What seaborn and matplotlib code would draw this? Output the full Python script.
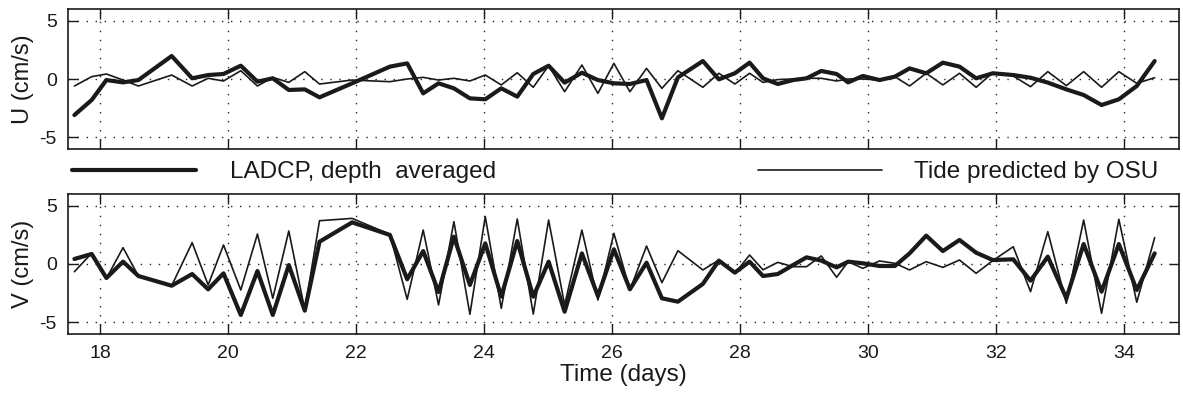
import matplotlib
matplotlib.use('Agg')
import matplotlib.pyplot as plt
from matplotlib.lines import Line2D
import seaborn as sns

# station times (days) and velocities (cm/s)
times = [17.60, 17.87, 18.10, 18.36, 18.60, 19.12, 19.44, 19.69, 19.93, 20.20,
         20.46, 20.70, 20.95, 21.20, 21.43, 21.94, 22.53, 22.80, 23.05, 23.29,
         23.53, 23.78, 24.02, 24.27, 24.52, 24.77, 25.01, 25.26, 25.53, 25.78,
         26.03, 26.28, 26.54, 26.78, 27.03, 27.42, 27.67, 27.92, 28.15, 28.36,
         28.59, 28.83, 29.04, 29.27, 29.51, 29.69, 29.92, 30.18, 30.42, 30.65,
         30.91, 31.17, 31.43, 31.69, 31.95, 32.27, 32.54, 32.81, 33.10, 33.37,
         33.65, 33.92, 34.20, 34.48]

u_ladcp = [-3.09, -1.8, -0.09, -0.29, -0.09, 1.97, 0.06, 0.34, 0.43, 1.14,
           -0.23, 0.06, -0.94, -0.89, -1.57, -0.37, 1.06, 1.34, -1.23, -0.37,
           -0.8, -1.66, -1.74, -0.8, -1.51, 0.43, 1.14, -0.31, 0.54, -0.09,
           -0.37, -0.43, -0.09, -3.37, 0.14, 1.54, -0.03, 0.49, 1.4, 0.06,
           -0.43, -0.09, 0.06, 0.69, 0.43, -0.29, 0.26, -0.09, 0.2, 0.91,
           0.49, 1.4, 1.06, 0.06, 0.49, 0.34, 0.11, -0.31, -0.89, -1.37,
           -2.23, -1.74, -0.6, 1.54]

u_tide = [-0.6, 0.2, 0.43, -0.09, -0.6, 0.34, -0.6, 0.06, -0.17, 0.71,
          -0.6, 0.14, -0.29, 0.63, -0.43, -0.09, -0.23, 0.0, 0.14, -0.09,
          0.06, -0.17, 0.34, -0.51, 0.54, -0.71, 1.14, -1.09, 1.2, -1.23,
          1.34, -1.09, 0.91, -0.8, 0.71, -0.71, 0.49, -0.43, 0.49, -0.29,
          -0.05, 0.0, 0.06, 0.06, -0.17, 0.0, 0.0, -0.09, 0.2, -0.6,
          0.49, -0.51, 0.49, -0.71, 0.54, 0.26, -0.66, 0.63, -0.57, 0.63,
          -0.71, 0.63, -0.37, 0.11]

v_ladcp = [0.43, 0.86, -1.2, 0.2, -1.03, -1.86, -0.86, -2.17, -0.8, -4.37,
           -0.6, -4.37, -0.09, -4.0, 1.91, 3.57, 2.49, -1.31, 1.11, -2.4,
           2.34, -1.8, 1.77, -2.8, 1.97, -2.8, 0.2, -4.09, 0.91, -2.74,
           1.26, -2.17, 0.11, -2.94, -3.23, -1.71, 0.29, -0.74, 0.2, -1.03,
           -0.86, -0.09, 0.57, 0.29, -0.29, 0.2, 0.06, -0.17, -0.17, 0.91,
           2.43, 1.11, 2.06, 0.97, 0.34, 0.4, -1.43, 0.63, -2.94, 1.71,
           -2.37, 1.71, -2.23, 0.91]

v_tide = [-0.66, 0.92, -1.23, 1.40, -1.03, -1.86, 1.83, -1.8, 1.63, -2.23,
          2.57, -2.94, 2.83, -3.94, 3.71, 3.91, 2.54, -3.03, 2.91, -3.51,
          3.63, -4.31, 4.06, -3.8, 3.86, -4.29, 3.77, -3.51, 2.91, -3.09,
          2.63, -2.23, 1.54, -1.6, 1.14, -0.51, 0.34, -0.8, 0.77, -0.5,
          0.14, -0.23, -0.23, 0.69, -1.14, 0.2, -0.37, 0.26, 0.06, -0.51,
          0.2, -0.29, 0.34, -0.8, 0.29, 1.48, -2.37, 2.77, -3.37, 3.77,
          -4.23, 3.83, -3.28, 2.26]

x_ticks = [18, 20, 22, 24, 26, 28, 30, 32, 34]
y_ticks = [-5, 0, 5]
labels = ['LADCP, depth  averaged', 'Tide predicted by OSU']

sns.set_theme(style='white')
plt.rcParams['font.family'] = ['Liberation Sans', 'DejaVu Sans']
plt.rcParams['axes.unicode_minus'] = False
plt.rcParams['text.color'] = 'k'

W, H = 1183, 397
fig = plt.figure(figsize=(W / 100, H / 100), dpi=100)
ax_u = fig.add_axes([68 / W, 1 - 149 / H, 1111 / W, 140 / H])
ax_v = fig.add_axes([68 / W, 1 - 334 / H, 1111 / W, 140 / H])

panels = [(ax_u, u_ladcp, u_tide, 'U (cm/s)'), (ax_v, v_ladcp, v_tide, 'V (cm/s)')]
for ax, thick, thin, lab in panels:
    sns.lineplot(x=times, y=thick, ax=ax, color='k', lw=3, sort=False)
    sns.lineplot(x=times, y=thin, ax=ax, color='k', lw=1.2, sort=False)
    ax.set_xlim(17.5, 34.86)
    ax.set_ylim(-6, 6)
    ax.set_xticks(x_ticks)
    ax.set_yticks(y_ticks)
    ax.grid(True, color='0.15', linestyle=(0, (1, 5.5)), linewidth=1)
    ax.tick_params(direction='in', bottom=True, left=True, top=True, right=True,
                   length=7, width=1, labelsize=14, pad=8, colors='k')
    ax.set_ylabel(lab, fontsize=17, labelpad=4, color='k')
    for s in ax.spines.values():
        s.set_color('k')
        s.set_linewidth(1.2)

ax_u.tick_params(labelbottom=False)
ax_v.set_xlabel('Time (days)', fontsize=17.5, labelpad=1, color='k')

# legend strip between the two panels
y_leg = 1 - 172 / H
fig.legend(handles=[Line2D([], [], color='k', lw=3)], labels=[labels[0]],
           loc='center left', bbox_to_anchor=(72 / W, y_leg), frameon=False,
           fontsize=17.5, handlelength=5.1, handletextpad=1.4, labelcolor='k',
           borderpad=0, borderaxespad=0)
fig.legend(handles=[Line2D([], [], color='k', lw=1.2)], labels=[labels[1]],
           loc='center left', bbox_to_anchor=(758 / W, y_leg), frameon=False,
           fontsize=17.5, handlelength=5.1, handletextpad=1.3, labelcolor='k',
           borderpad=0, borderaxespad=0)

fig.savefig('out.png', dpi=100, facecolor='white')
